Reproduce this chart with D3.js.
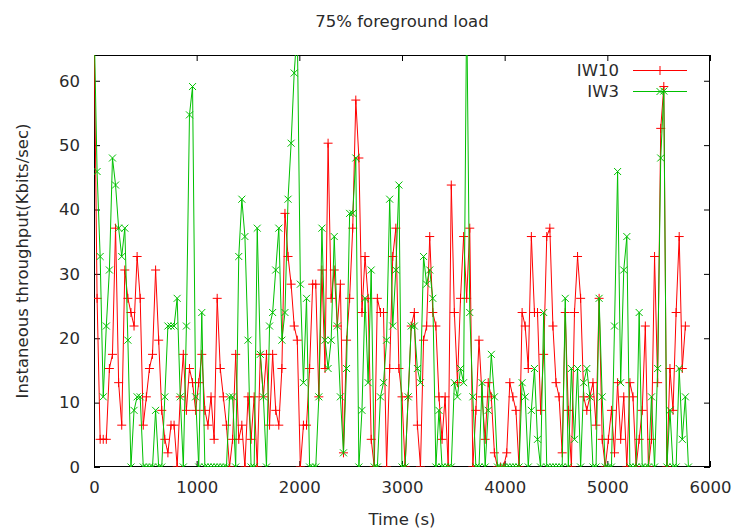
<!DOCTYPE html>
<html><head><meta charset="utf-8">
<script src="https://cdn.jsdelivr.net/npm/d3@7/dist/d3.min.js"></script>
<style>
body{margin:0;background:#fff;}
text{font-family:"DejaVu Sans",sans-serif;font-size:16.5px;fill:#2a2a2a;}
</style>
</head><body>
<svg id="chart" width="733" height="530"></svg>
<script>
const titleText = "75% foreground load";
const xLabel = "Time (s)";
const yLabel = "Instaneous throughput(Kbits/sec)";
const seriesNames = ["IW10", "IW3"];
const xTicks = [0, 1000, 2000, 3000, 4000, 5000, 6000];
const yTicks = [0, 10, 20, 30, 40, 50, 60];
const sampleStep = 30; // seconds between samples

const iw10 = [
70,26.2,4.3,4.3,4.3,15.3,17.5,37.1,13.1,6.5,
30.6,26.2,24,21.9,32.7,26.2,6.5,10.9,15.3,17.5,
30.6,19.7,8.8,4.3,2.2,6.5,6.5,0,10.9,17.5,
8.8,15.3,13.1,8.8,13.1,17.5,8.8,6.5,10.9,4.3,
26.2,15.3,10.9,6.5,0,4.3,17.5,4.3,6.5,0,
10.9,4.3,10.9,0,17.5,10.9,17.5,6.5,17.5,8.8,
6.5,15.3,39.4,32.7,28.4,21.9,19.7,0,6.5,6.5,
15.3,28.4,28.4,10.9,30.6,15.3,50.3,26.2,30.6,21.9,
28.4,2.2,19.7,26.2,37.1,57,48,24,32.7,26.2,
4.3,0,26.2,24,24,0,15.3,32.7,37.1,15.3,
10.9,0,10.9,21.9,24,6.5,0,19.7,21.9,35.8,
24,21.9,10.9,4.3,10.9,0,43.8,24,13.1,26.2,
35.8,26.2,37.1,0,8.8,19.7,10.9,4.3,13.1,10.9,
2.2,0,0,0,2.2,13.1,10.9,8.8,0,24,
21.9,15.3,35.8,24,24,8.8,17.5,35.8,37.1,21.9,
13.1,10.9,2.2,24,8.8,0,24,32.7,26.2,10.9,
8.8,10.9,13.1,6.5,26.2,4.3,0,4.3,8.8,2.2,
13.1,4.3,10.9,0,13.1,10.9,0,4.3,8.8,21.9,
0,4.3,32.7,13.1,52.6,59.1,0,15.3,8.8,24,
35.8,15.3,21.9
];

const iw3 = [
70,45.9,32.7,10.9,21.9,30.6,48,43.8,37.1,32.7,
37.1,19.7,0,8.8,10.9,10.9,0,0,0,0,
8.8,0,0,10.9,21.9,21.9,21.9,26.2,10.9,0,
21.9,54.7,59.1,10.9,0,24,0,0,0,0,
0,0,0,0,10.9,10.9,0,32.7,41.6,35.8,
19.7,0,0,37.1,17.5,10.9,0,21.9,24,30.6,
37.1,19.7,24,41.6,50.3,61.2,68,28.4,13.1,26.2,
0,0,0,10.9,37.1,19.7,15.3,19.7,35.8,21.9,
10.9,2.2,15.3,39.4,39.4,48,0,8.8,26.2,13.1,
30.6,0,0,10.9,13.1,19.7,41.6,21.9,30.6,43.8,
0,0,10.9,21.9,21.9,15.3,13.1,32.7,28.4,30.6,
26.2,0,8.8,0,0,0,0,13.1,10.9,15.3,
13.1,72,24,10.9,0,0,13.1,0,8.8,17.5,
10.9,0,0,0,0,0,0,0,0,13.1,
10.9,0,8.8,15.3,4.3,0,24,0,0,0,
0,0,0,26.2,0,15.3,4.3,15.3,0,13.1,
15.3,10.9,0,0,26.2,10.9,0,0,0,21.9,
45.9,13.1,30.6,35.8,0,0,0,24,0,0,
0,10.9,0,15.3,48,58.4,0,8.8,0,0,
15.3,4.3,10.9,0
];

const colors = ["#ff0000", "#00c000"];

const svg = d3.select("#chart");
const M = {left: 94, right: 710, top: 55, bottom: 467};
const x = d3.scaleLinear().domain([0, 6000]).range([M.left, M.right]);
const y = d3.scaleLinear().domain([0, 64]).range([M.bottom, M.top]);

svg.append("defs").append("clipPath").attr("id", "clip")
  .append("rect").attr("x", M.left).attr("y", M.top)
  .attr("width", M.right - M.left).attr("height", M.bottom - M.top);

// axes with inward ticks
const tl = 6;
const gx = svg.append("g").attr("transform", `translate(0,${M.bottom})`)
  .call(d3.axisBottom(x).tickValues(xTicks).tickSize(-tl).tickPadding(tl + 8).tickFormat(d3.format("d")));
const gxt = svg.append("g").attr("transform", `translate(0,${M.top})`)
  .call(d3.axisTop(x).tickValues(xTicks).tickSize(-tl).tickFormat(""));
const gy = svg.append("g").attr("transform", `translate(${M.left},0)`)
  .call(d3.axisLeft(y).tickValues(yTicks).tickSize(-tl).tickPadding(tl + 8));
const gyr = svg.append("g").attr("transform", `translate(${M.right},0)`)
  .call(d3.axisRight(y).tickValues(yTicks).tickSize(-tl).tickFormat(""));
[gx, gxt, gy, gyr].forEach(g => {
  g.select(".domain").remove();
  g.selectAll(".tick line").attr("stroke", "#000");
  g.selectAll("text").attr("font-size", null).attr("font-family", null).attr("fill", null);
});
gx.selectAll("text").attr("dy", "0.71em");

svg.append("rect").attr("x", M.left + 0.5).attr("y", M.top + 0.5)
  .attr("width", M.right - M.left - 1).attr("height", M.bottom - M.top - 1)
  .attr("fill", "none").attr("stroke", "#000").attr("stroke-width", 1);

// titles
svg.append("text").attr("x", (M.left + M.right) / 2).attr("y", 27)
  .attr("text-anchor", "middle").text(titleText);
svg.append("text").attr("x", (M.left + M.right) / 2).attr("y", 525)
  .attr("text-anchor", "middle").text(xLabel);
svg.append("text").attr("transform", `translate(28,${(M.top + M.bottom) / 2}) rotate(-90)`)
  .attr("text-anchor", "middle").text(yLabel);

const plusPath = s => `M${-s},0H${s}M0,${-s}V${s}`;
const crossPath = s => `M${-s},${-s}L${s},${s}M${-s},${s}L${s},${-s}`;
const markers = [plusPath(4.5), crossPath(3.5)];

const plot = svg.append("g").attr("clip-path", "url(#clip)");
const line = d3.line().x((d, i) => x(i * sampleStep)).y(d => y(d));

[iw10, iw3].forEach((vals, k) => {
  const g = plot.append("g");
  g.append("path").datum(vals).attr("d", line)
    .attr("fill", "none").attr("stroke", colors[k]).attr("stroke-width", 1);
  g.selectAll("path.m").data(vals).join("path").attr("class", "m")
    .attr("transform", (d, i) => `translate(${x(i * sampleStep)},${y(d)})`)
    .attr("d", markers[k]).attr("fill", "none").attr("stroke", colors[k]).attr("stroke-width", 1);
});

// legend
const legY = [70, 91];
seriesNames.forEach((name, k) => {
  svg.append("text").attr("x", 619).attr("y", legY[k]).attr("dy", "0.35em")
    .attr("text-anchor", "end").text(name);
  svg.append("line").attr("x1", 633).attr("x2", 687).attr("y1", legY[k] + 0.5).attr("y2", legY[k] + 0.5)
    .attr("stroke", colors[k]).attr("stroke-width", 1);
  svg.append("path").attr("transform", `translate(660,${legY[k] + 0.5})`).attr("d", markers[k])
    .attr("fill", "none").attr("stroke", colors[k]).attr("stroke-width", 1);
});
</script>
</body></html>
